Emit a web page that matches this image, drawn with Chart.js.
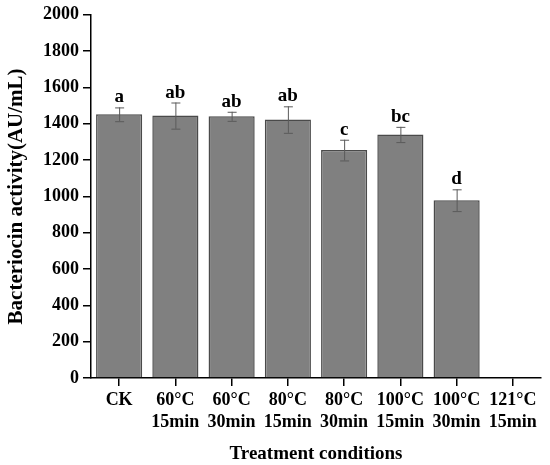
<!DOCTYPE html>
<html>
<head>
<meta charset="utf-8">
<script src="https://cdn.jsdelivr.net/npm/chart.js@4/dist/chart.umd.min.js"></script>
<style>
  html, body { margin: 0; padding: 0; background: #fff; }
  #wrap { width: 550px; height: 465px; }
</style>
</head>
<body>
<div id="wrap"><canvas id="chart"></canvas></div>
<script>
// categories, means, standard errors and significance letters
const categories = [
  ["CK"], ["60\u00B0C", "15min"], ["60\u00B0C", "30min"], ["80\u00B0C", "15min"],
  ["80\u00B0C", "30min"], ["100\u00B0C", "15min"], ["100\u00B0C", "30min"], ["121\u00B0C", "15min"]
];
const activity = [1452, 1445, 1441, 1423, 1255, 1341, 979, 0];
const errors = [38, 72, 25, 73, 57, 42, 60, 0];
const letters = ["a", "ab", "ab", "ab", "c", "bc", "d", ""];
const yTicks = [0, 200, 400, 600, 800, 1000, 1200, 1400, 1600, 1800, 2000];

const FONT = "'Liberation Serif', 'Times New Roman', serif";

// error bars + letters drawn on top of the bars
const errorBarPlugin = {
  id: "errorBars",
  afterDatasetsDraw(chart) {
    const { ctx, scales: { x, y } } = chart;
    ctx.save();
    activity.forEach((v, i) => {
      if (!v) return;
      const cx = x.getPixelForValue(i);
      const top = y.getPixelForValue(v + errors[i]);
      const bot = y.getPixelForValue(v - errors[i]);
      ctx.strokeStyle = "#5a5a5a";
      ctx.lineWidth = 1;
      ctx.beginPath();
      ctx.moveTo(cx + 0.5, top); ctx.lineTo(cx + 0.5, bot);
      ctx.moveTo(cx - 4, top + 0.5); ctx.lineTo(cx + 5, top + 0.5);
      ctx.moveTo(cx - 4, bot + 0.5); ctx.lineTo(cx + 5, bot + 0.5);
      ctx.stroke();
      ctx.fillStyle = "#000";
      ctx.font = "bold 19px " + FONT;
      ctx.textAlign = "center";
      ctx.textBaseline = "alphabetic";
      ctx.fillText(letters[i], cx, top - 5);
    });
    ctx.restore();
  }
};

new Chart(document.getElementById("chart"), {
  type: "bar",
  data: {
    labels: categories,
    datasets: [{
      data: activity,
      backgroundColor: "#808080",
      borderColor: "#4a4a4a",
      borderWidth: 1.5,
      barPercentage: 0.82,
      categoryPercentage: 1
    }]
  },
  options: {
    responsive: true,
    maintainAspectRatio: false,
    animation: false,
    layout: { padding: { top: 13, right: 9, left: 0, bottom: 0 } },
    plugins: { legend: { display: false }, tooltip: { enabled: false } },
    scales: {
      x: {
        grid: { display: true, offset: false, drawOnChartArea: false, drawTicks: true, tickLength: 8, color: "#000", lineWidth: 1.5 },
        border: { display: true, color: "#000", width: 1.5 },
        ticks: { color: "#000", padding: 3, font: { family: FONT, size: 18, weight: "bold", lineHeight: 1.25 }, maxRotation: 0, autoSkip: false },
        title: { display: true, text: "Treatment conditions", color: "#000", padding: { top: 4, bottom: 0 }, font: { family: FONT, size: 19, weight: "bold" } },
        afterFit(scale) { scale.height = 87; }
      },
      y: {
        min: 0, max: 2000,
        afterBuildTicks(scale) { scale.ticks = yTicks.map(v => ({ value: v })); },
        grid: { display: true, drawOnChartArea: false, drawTicks: true, tickLength: 8, color: "#000", lineWidth: 1.5 },
        border: { display: true, color: "#000", width: 1.5 },
        ticks: { color: "#000", padding: 4, callback: v => String(v), font: { family: FONT, size: 18, weight: "bold" } },
        title: { display: true, text: "Bacteriocin activity(AU/mL)", color: "#000", padding: { top: 4, bottom: 0 }, font: { family: FONT, size: 21, weight: "bold" } },
        afterFit(scale) { scale.width = 91; }
      }
    }
  },
  plugins: [errorBarPlugin]
});
</script>
</body>
</html>
